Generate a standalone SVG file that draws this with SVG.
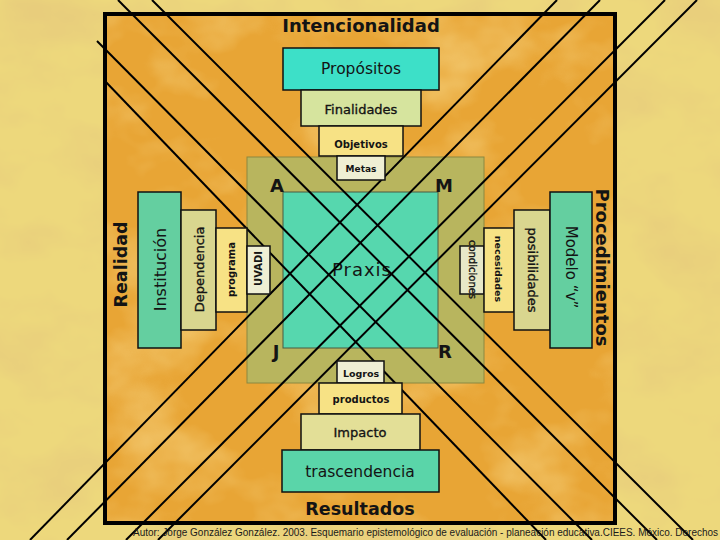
<svg xmlns="http://www.w3.org/2000/svg" width="720" height="540" viewBox="0 0 720 540">
<defs>
<filter id="texOut" filterUnits="userSpaceOnUse" x="0" y="0" width="720" height="540">
<feTurbulence type="fractalNoise" baseFrequency="0.011 0.016" numOctaves="4" seed="5"/>
<feColorMatrix type="matrix" values="0 0 0 0 0.80  0 0 0 0 0.60  0 0 0 0 0.20  1.9 0 0 0 -0.80"/>
</filter>
<filter id="texIn" filterUnits="userSpaceOnUse" x="105" y="14" width="510" height="509">
<feTurbulence type="fractalNoise" baseFrequency="0.010 0.014" numOctaves="4" seed="11"/>
<feColorMatrix type="matrix" values="0 0 0 0 0.96  0 0 0 0 0.76  0 0 0 0 0.32  0 1.3 0 0 -0.62"/>
</filter>
<style>
.lbl{font-family:"DejaVu Sans","Liberation Sans",sans-serif;fill:#141414;text-anchor:middle}
.b{font-weight:bold}
.m{stroke:#141414;stroke-width:0.35}
.box{stroke:#111;stroke-width:1.5}
.teal{fill:#3DE0C8}
.green{fill:#64CFA0}
.pale{fill:#D6E49E}
.khaki{fill:#D9D68F}
.yel{fill:#F7E285}
.wht{fill:#EFEFD4}
.ln{stroke:#000;stroke-width:2;fill:none}
</style>
</defs>

<g id="background">
<rect x="0" y="0" width="720" height="540" fill="#EDD87C"/>
<rect x="0" y="0" width="720" height="540" filter="url(#texOut)"/>
<rect x="105" y="14" width="510" height="509" fill="#E8A535"/>
<rect x="105" y="14" width="510" height="509" filter="url(#texIn)"/>
</g>

<g id="olive-square">
<rect x="247" y="157" width="237" height="226" fill="#B8B55E" stroke="#8A8840" stroke-width="1"/>
</g>
<g id="praxis">
<rect x="283" y="192" width="155" height="156" fill="#56D7AE" stroke="#4A5A40" stroke-width="1"/>
<text class="lbl" x="362" y="276" font-size="18" letter-spacing="1">Praxis</text>
</g>

<g id="connectors">
<line class="ln" x1="118" y1="0" x2="657" y2="540"/>
<line class="ln" x1="152" y1="0" x2="693" y2="540"/>
<line class="ln" x1="97" y1="41" x2="592" y2="540"/>
<line class="ln" x1="104" y1="80" x2="546" y2="540"/>
<line class="ln" x1="557" y1="0" x2="30" y2="540"/>
<line class="ln" x1="600" y1="0" x2="67" y2="540"/>
<line class="ln" x1="665" y1="0" x2="126" y2="540"/>
<line class="ln" x1="697" y1="0" x2="158" y2="540"/>
</g>

<g id="frame">
<rect x="105" y="14" width="510" height="509" fill="none" stroke="#000" stroke-width="4"/>
</g>

<g id="propositos">
<rect class="box teal" x="283" y="48" width="156" height="42"/>
<text class="lbl" x="361" y="74" font-size="15.5">Propósitos</text>
</g>
<g id="finalidades">
<rect class="box pale" x="301" y="90" width="120" height="36"/>
<text class="lbl m" x="361" y="114" font-size="13">Finalidades</text>
</g>
<g id="objetivos">
<rect class="box yel" x="319" y="126" width="84" height="30"/>
<text class="lbl b" x="361" y="148" font-size="10">Objetivos</text>
</g>
<g id="metas">
<rect class="box wht" x="337" y="156" width="48" height="24"/>
<text class="lbl b" x="361" y="172" font-size="9">Metas</text>
</g>

<g id="logros">
<rect class="box wht" x="337" y="361" width="47" height="22"/>
<text class="lbl b" x="361" y="377" font-size="9.5">Logros</text>
</g>
<g id="productos">
<rect class="box yel" x="319" y="383" width="83" height="31"/>
<text class="lbl b" x="361" y="403" font-size="10">productos</text>
</g>
<g id="impacto">
<rect class="box" fill="#E3DF97" x="301" y="414" width="119" height="36"/>
<text class="lbl m" x="360" y="437" font-size="13">Impacto</text>
</g>
<g id="trascendencia">
<rect class="box" fill="#5AD5A9" x="282" y="450" width="157" height="42"/>
<text class="lbl" x="360" y="477" font-size="15.5">trascendencia</text>
</g>

<g id="institucion">
<rect class="box green" x="138" y="192" width="43" height="156"/>
<text class="lbl" transform="translate(165.5,269.5) rotate(-90)" font-size="16">Institución</text>
</g>
<g id="dependencia">
<rect class="box khaki" x="181" y="210" width="35" height="120"/>
<text class="lbl m" transform="translate(203.5,269.5) rotate(-90)" font-size="13">Dependencia</text>
</g>
<g id="programa">
<rect class="box yel" x="216" y="228" width="31" height="84"/>
<text class="lbl b" transform="translate(235,269.5) rotate(-90)" font-size="10">programa</text>
</g>
<g id="uvadi">
<rect class="box wht" x="247" y="246" width="23" height="48"/>
<text class="lbl b" transform="translate(262,268.5) rotate(-90)" font-size="10">UVADI</text>
</g>

<g id="condiciones">
<rect class="box" fill="#E8E8C8" x="460" y="246" width="24" height="48"/>
<text class="lbl m" transform="translate(468.5,269.5) rotate(90)" font-size="10">condiciones</text>
</g>
<g id="necesidades">
<rect class="box yel" x="484" y="228" width="30" height="84"/>
<text class="lbl b" transform="translate(494.5,269) rotate(90)" font-size="9.5">necesidades</text>
</g>
<g id="posibilidades">
<rect class="box khaki" x="514" y="210" width="36" height="120"/>
<text class="lbl m" transform="translate(527.5,270) rotate(90)" font-size="13">posibilidades</text>
</g>
<g id="modelo">
<rect class="box green" x="550" y="192" width="42" height="156"/>
<text class="lbl" transform="translate(566,267) rotate(90)" font-size="15">Modelo “v”</text>
</g>

<g id="titles">
<text class="lbl b" x="361" y="32" font-size="18">Intencionalidad</text>
<text class="lbl b" x="360" y="515" font-size="17.5">Resultados</text>
<text class="lbl b" transform="translate(126.5,264.5) rotate(-90)" font-size="17.5">Realidad</text>
<text class="lbl b" transform="translate(596,267.5) rotate(90)" font-size="18">Procedimientos</text>
<text class="lbl b" x="277" y="192" font-size="18">A</text>
<text class="lbl b" x="444" y="192" font-size="18">M</text>
<text class="lbl b" x="276" y="358" font-size="18">J</text>
<text class="lbl b" x="445" y="358" font-size="18">R</text>
</g>

<g id="footer">
<text x="133" y="536" font-family="Liberation Sans, Arial, sans-serif" font-size="10" fill="#1a1a1a" textLength="585" lengthAdjust="spacingAndGlyphs">Autor: Jorge González González. 2003. Esquemario epistemológico de evaluación - planeación educativa.CIEES. México. Derechos</text>
</g>
</svg>
